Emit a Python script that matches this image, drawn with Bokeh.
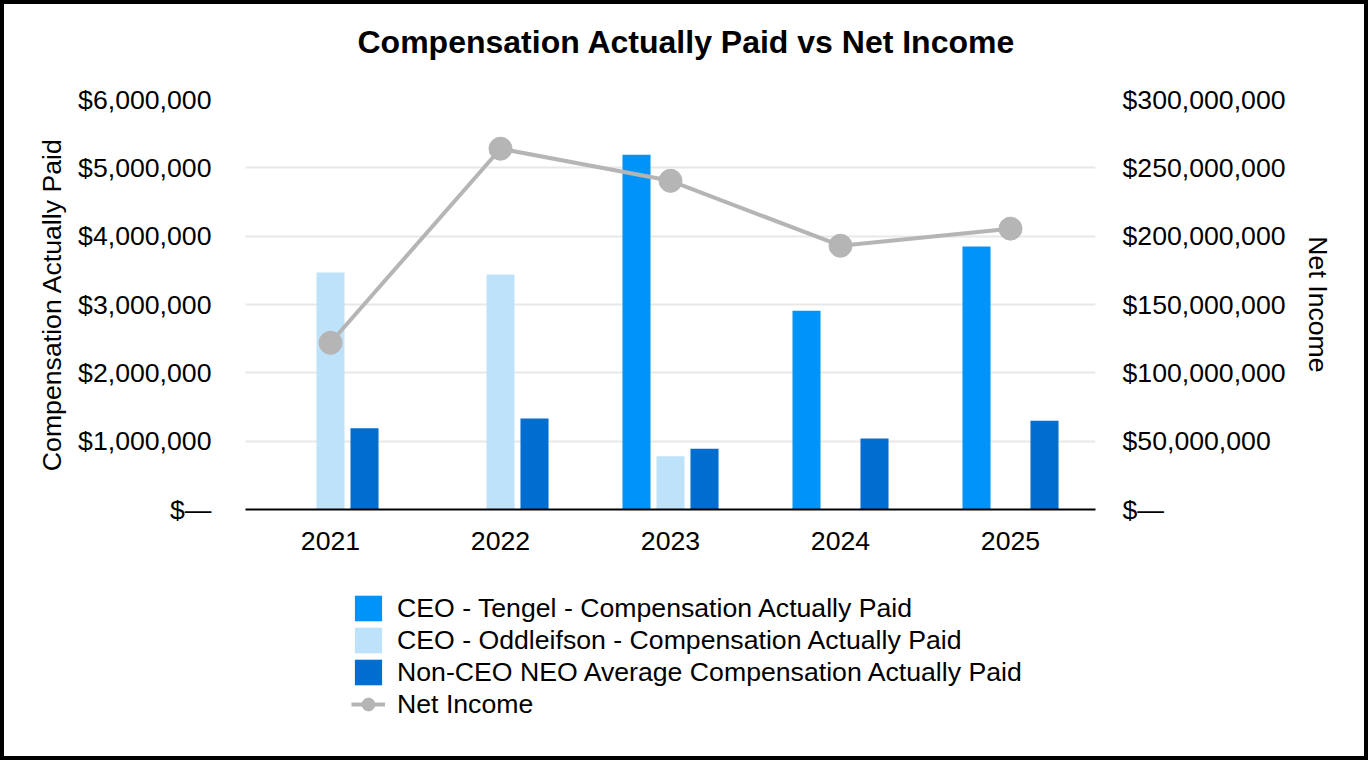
import numpy as np
from bokeh.plotting import figure
from bokeh.layouts import column
from bokeh.models import (Range1d, FactorRange, LinearAxis, FixedTicker, Title,
                          CustomJSTickFormatter, Legend, LegendItem, ColumnDataSource)
from bokeh.transform import dodge
from bokeh.embed import file_html
from bokeh.resources import INLINE

# ---- data ----
years = ["2021", "2022", "2023", "2024", "2025"]
tengel = [np.nan, np.nan, 5_190_000, 2_910_000, 3_850_000]
oddleifson = [3_470_000, 3_440_000, 780_000, np.nan, np.nan]
non_ceo = [1_190_000, 1_330_000, 890_000, 1_040_000, 1_300_000]
net_income = [122_000_000, 264_000_000, 240_500_000, 193_000_000, 205_500_000]
series_labels = [
    "CEO - Tengel - Compensation Actually Paid",
    "CEO - Oddleifson - Compensation Actually Paid",
    "Non-CEO NEO Average Compensation Actually Paid",
    "Net Income",
]
series_colors = ["#0094FA", "#BEE2FA", "#006DD0", "#B5B5B5"]
left_ticks = [0, 1_000_000, 2_000_000, 3_000_000, 4_000_000, 5_000_000, 6_000_000]
right_ticks = [0, 50_000_000, 100_000_000, 150_000_000, 200_000_000, 250_000_000, 300_000_000]

FONT = "Liberation Sans"
FS = "26.67px"
W = 1360
H1, H2 = 572, 180

src = ColumnDataSource(dict(year=years, tengel=tengel, odd=oddleifson, nc=non_ceo, ni=net_income))

p = figure(x_range=FactorRange(factors=years), y_range=Range1d(0, 6_000_000),
           width=W, height=H1, output_backend="svg", toolbar_location=None,
           min_border_left=241, min_border_right=269, min_border_top=95, min_border_bottom=67)
p.extra_y_ranges = {"ni": Range1d(0, 300_000_000)}
p.background_fill_color = "white"
p.border_fill_color = "white"
p.outline_line_color = None

p.title.text = "Compensation Actually Paid vs Net Income"
p.title.align = "left"
p.title.text_font = FONT
p.title.text_font_size = "32px"
p.title.text_font_style = "bold"
p.title.text_color = "black"
p.title.offset = 112
p.title.standoff = 0

# blank spacer panel between the title and the plot area
p.add_layout(Title(text=" ", text_font_size="2px", standoff=36), "above")

fmt = CustomJSTickFormatter(code="return tick == 0 ? '$\\u2014' : '$' + Math.round(tick).toLocaleString('en-US');")

ly = p.yaxis[0]
ly.ticker = FixedTicker(ticks=left_ticks)
ly.formatter = fmt
ly.axis_label = "Compensation Actually Paid"
ly.major_label_standoff = 34
ly.axis_label_standoff = 8

ry = LinearAxis(y_range_name="ni", axis_label="Net Income")
ry.ticker = FixedTicker(ticks=right_ticks)
ry.formatter = fmt
ry.major_label_standoff = 27
ry.axis_label_standoff = 14
p.add_layout(ry, "right")

for ax in (ly, ry):
    ax.axis_line_color = None
    ax.major_tick_line_color = None
    ax.minor_tick_line_color = None
    ax.major_tick_out = 0
    ax.major_tick_in = 0
    ax.major_label_text_font = FONT
    ax.major_label_text_font_size = FS
    ax.major_label_text_color = "black"
    ax.axis_label_text_font = FONT
    ax.axis_label_text_font_size = FS
    ax.axis_label_text_font_style = "normal"
    ax.axis_label_text_color = "black"

xa = p.xaxis[0]
xa.axis_line_color = "black"
xa.axis_line_width = 2
xa.major_tick_line_color = None
xa.minor_tick_line_color = None
xa.major_tick_out = 0
xa.major_tick_in = 0
xa.major_label_text_font = FONT
xa.major_label_text_font_size = FS
xa.major_label_text_color = "black"
xa.major_label_standoff = 22

p.xgrid.grid_line_color = None
p.ygrid.ticker = FixedTicker(ticks=left_ticks)
p.ygrid.grid_line_color = "#E8E8E8"
p.ygrid.grid_line_width = 2

bw = 0.165
p.vbar(x=dodge("year", -0.2, range=p.x_range), top="tengel", width=bw, source=src,
       fill_color=series_colors[0], line_color=None)
p.vbar(x=dodge("year", 0.0, range=p.x_range), top="odd", width=bw, source=src,
       fill_color=series_colors[1], line_color=None)
p.vbar(x=dodge("year", 0.2, range=p.x_range), top="nc", width=bw, source=src,
       fill_color=series_colors[2], line_color=None)
p.line("year", "ni", source=src, y_range_name="ni", line_color=series_colors[3], line_width=4)
p.scatter("year", "ni", source=src, y_range_name="ni", size=23,
          fill_color=series_colors[3], line_color=series_colors[3])

# ---- legend panel: separate figure whose legend proxies sit outside its (hidden) ranges ----
lf = figure(width=W, height=H2, output_backend="svg", toolbar_location=None,
            x_range=Range1d(0, 1), y_range=Range1d(0, 1),
            x_axis_type=None, y_axis_type=None,
            min_border_left=0, min_border_right=0, min_border_top=0, min_border_bottom=0)
lf.title = None
lf.outline_line_color = None
lf.xgrid.grid_line_color = None
lf.ygrid.grid_line_color = None
lf.background_fill_color = "white"
lf.border_fill_color = "white"

proxy = ColumnDataSource(dict(x=[-10.0], y=[-10.0]))
d1 = lf.vbar(x="x", top="y", width=0.1, source=proxy, fill_color=series_colors[0], line_color=None)
d2 = lf.vbar(x="x", top="y", width=0.1, source=proxy, fill_color=series_colors[1], line_color=None)
d3 = lf.vbar(x="x", top="y", width=0.1, source=proxy, fill_color=series_colors[2], line_color=None)
dl = lf.line(x="x", y="y", source=proxy, line_color=series_colors[3], line_width=4)
ds = lf.scatter(x="x", y="y", source=proxy, size=23, fill_color=series_colors[3], line_color=series_colors[3])

legend = Legend(items=[
    LegendItem(label=series_labels[0], renderers=[d1]),
    LegendItem(label=series_labels[1], renderers=[d2]),
    LegendItem(label=series_labels[2], renderers=[d3]),
    LegendItem(label=series_labels[3], renderers=[dl, ds]),
], location=(106, 36), glyph_width=34, glyph_height=32, spacing=0, padding=0, margin=0,
    label_standoff=12, label_text_font=FONT, label_text_font_size=FS,
    label_text_color="black", border_line_color=None, background_fill_alpha=0)
lf.add_layout(legend, "center")

layout = column(p, lf, width=1368, height=760, spacing=0,
                styles={"border": "4px solid black", "box-sizing": "border-box",
                        "background-color": "white"})

open("out.html", "w", encoding="utf-8").write(file_html(layout, INLINE))
